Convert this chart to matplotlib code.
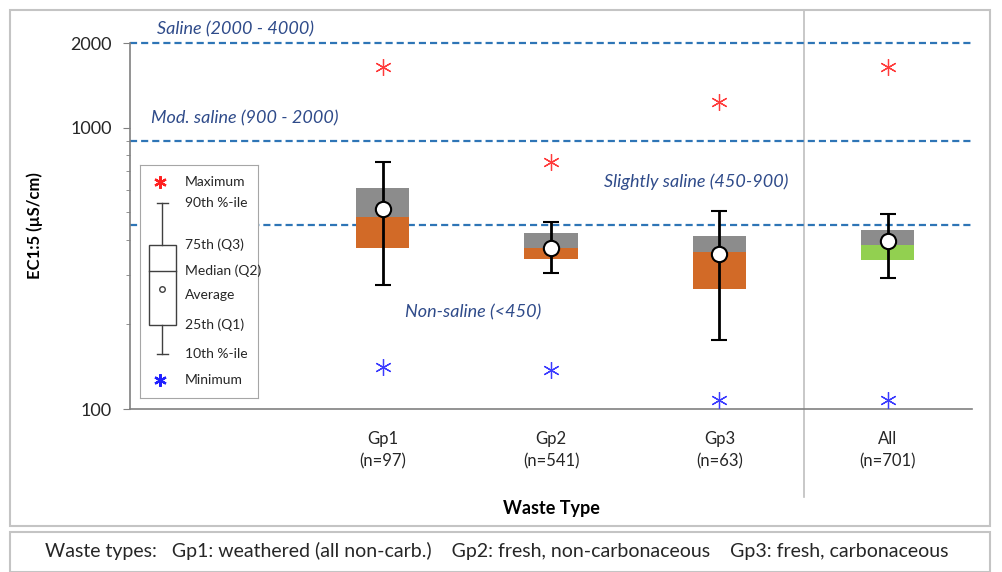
import numpy as np
import matplotlib
matplotlib.use("Agg")
import matplotlib.pyplot as plt
from matplotlib.patches import Rectangle
from matplotlib.ticker import FixedLocator, NullFormatter, LogLocator

plt.rcParams['font.family'] = ['Lato', 'DejaVu Sans']

# EC1:5 summary stats per waste group (uS/cm)
groups = ['Gp1\n(n=97)', 'Gp2\n(n=541)', 'Gp3\n(n=63)', 'All\n(n=701)']
ec_max = [1650, 757, 1230, 1650]
ec_p90 = [757, 461, 504, 494]
ec_q3 = [608, 422, 412, 434]
ec_median = [480, 374, 361, 382]
ec_mean = [516, 375, 355, 395]
ec_q1 = [372, 340, 266, 338]
ec_p10 = [275, 304, 176, 291]
ec_min = [141, 138, 108, 108]
low_colors = ['#D26A27', '#D26A27', '#D26A27', '#92D050']

# salinity class boundaries
class_limits = [2000, 900, 450]
class_labels = ['Saline (2000 - 4000)', 'Mod. saline (900 - 2000)',
                'Slightly saline (450-900)', 'Non-saline (<450)']

fig = plt.figure(figsize=(10.02, 5.72), dpi=100)
ax = fig.add_axes([130 / 1002, 1 - 409 / 572, 842 / 1002, 366 / 572])

# outer frames
fig.patches.append(Rectangle((10 / 1002, 1 - 526 / 572), 980 / 1002, 516 / 572,
                             transform=fig.transFigure, fill=False,
                             ec='#c4c4c4', lw=1.5))
fig.patches.append(Rectangle((10 / 1002, 1 - 572 / 572), 980 / 1002, 40 / 572,
                             transform=fig.transFigure, fill=False,
                             ec='#c4c4c4', lw=1.5))

x = np.arange(1, len(groups) + 1)
w = 0.315

ax.set_yscale('log')
ax.set_ylim(100, 2000)
ax.set_xlim(-0.5, 4.5)

for y in class_limits:
    ax.axhline(y, color='#2E75B6', lw=1.6, ls=(0, (3.2, 1.8)), zorder=1,
               clip_on=False)

ax.bar(x, np.array(ec_median) - np.array(ec_q1), bottom=ec_q1, width=w,
       color=low_colors, zorder=2)
ax.bar(x, np.array(ec_q3) - np.array(ec_median), bottom=ec_median, width=w,
       color='#8C8C8C', zorder=2)
ax.errorbar(x, ec_mean,
            yerr=[np.array(ec_mean) - np.array(ec_p10), np.array(ec_p90) - np.array(ec_mean)],
            fmt='o', ms=11, mfc='white', mec='black', mew=1.5,
            ecolor='black', elinewidth=2, capsize=6, capthick=2, zorder=3)
ax.plot(x, ec_max, ls='none', marker=(6, 2, 0), ms=12, mew=0.9,
        color='#FF3B3B', zorder=3)
ax.plot(x, ec_min, ls='none', marker=(6, 2, 0), ms=12, mew=0.9,
        color='#3B3BFF', zorder=3)

# class labels
lab_kw = dict(color='#2F4B8A', style='italic', fontsize=13, va='center')
ax.text(-0.34, 2244, class_labels[0], **lab_kw)
ax.text(-0.375, 1076, class_labels[1], **lab_kw)
ax.text(2.315, 643, class_labels[2], **lab_kw)
ax.text(1.133, 221, class_labels[3], **lab_kw)

# separator for the "All" column
ax.plot([3.5, 3.5], [-0.24, 1.09], transform=ax.get_xaxis_transform(),
        color='#BFBFBF', lw=1.2, clip_on=False, zorder=0)

ax.set_xticks(x)
ax.set_xticklabels(groups, fontsize=12, color='#262626', linespacing=1.45)
ax.tick_params(axis='x', length=0, pad=16)
ax.yaxis.set_major_locator(FixedLocator([100, 1000, 2000]))
ax.yaxis.set_major_formatter(plt.FuncFormatter(lambda v, p: f'{v:.0f}'))
ax.yaxis.set_minor_locator(LogLocator(base=10, subs=np.arange(2, 10)))
ax.yaxis.set_minor_formatter(NullFormatter())
ax.tick_params(axis='y', which='major', length=5, color='#808080', labelsize=13,
               labelcolor='#262626', pad=8)
ax.tick_params(axis='y', which='minor', length=3, color='#808080')
for s in ['top', 'right']:
    ax.spines[s].set_visible(False)
for s in ['left', 'bottom']:
    ax.spines[s].set_color('#808080')
    ax.spines[s].set_linewidth(1.2)

ax.set_xlabel('Waste Type', fontsize=13, fontweight='bold', labelpad=22)
ax.set_ylabel('EC1:5 (µS/cm)', fontsize=12, fontweight='bold', labelpad=20)

# key explaining the box symbols
key = ax.inset_axes([10 / 842, 11 / 366, 118 / 842, 233 / 366])
key.set_xlim(0, 118)
key.set_ylim(233, 0)
key.set_xticks([])
key.set_yticks([])
for s in key.spines.values():
    s.set_color('#A6A6A6')
key.add_patch(Rectangle((9, 80), 27, 80, fill=False, ec='#404040', lw=1))
key.plot([9, 36], [106, 106], color='#404040', lw=1)
key.plot([22.5, 22.5], [38, 80], color='#404040', lw=1)
key.plot([22.5, 22.5], [160, 189], color='#404040', lw=1)
key.plot([17, 28], [38, 38], color='#404040', lw=1)
key.plot([17, 28], [189, 189], color='#404040', lw=1)
key.plot([22.5], [124], 'o', ms=4, mfc='white', mec='#404040', mew=1)
key.plot([20], [17], ls='none', marker=(6, 2, 0), ms=9, mew=1.6, color='#FF2020')
key.plot([20], [215], ls='none', marker=(6, 2, 0), ms=9, mew=1.6, color='#2020FF')
key_text = [('Maximum', 17), ('90th %-ile', 38), ('75th (Q3)', 80),
            ('Median (Q2)', 106), ('Average', 130), ('25th (Q1)', 160),
            ('10th %-ile', 189), ('Minimum', 215)]
for t, yy in key_text:
    key.text(45, yy, t, fontsize=10, va='center', color='#262626')

fig.text(45 / 1002, 1 - 551 / 572,
         'Waste types:   Gp1: weathered (all non-carb.)    Gp2: fresh, non-carbonaceous    Gp3: fresh, carbonaceous',
         fontsize=14, va='center', color='#262626')

fig.savefig('out.png', dpi=100)
